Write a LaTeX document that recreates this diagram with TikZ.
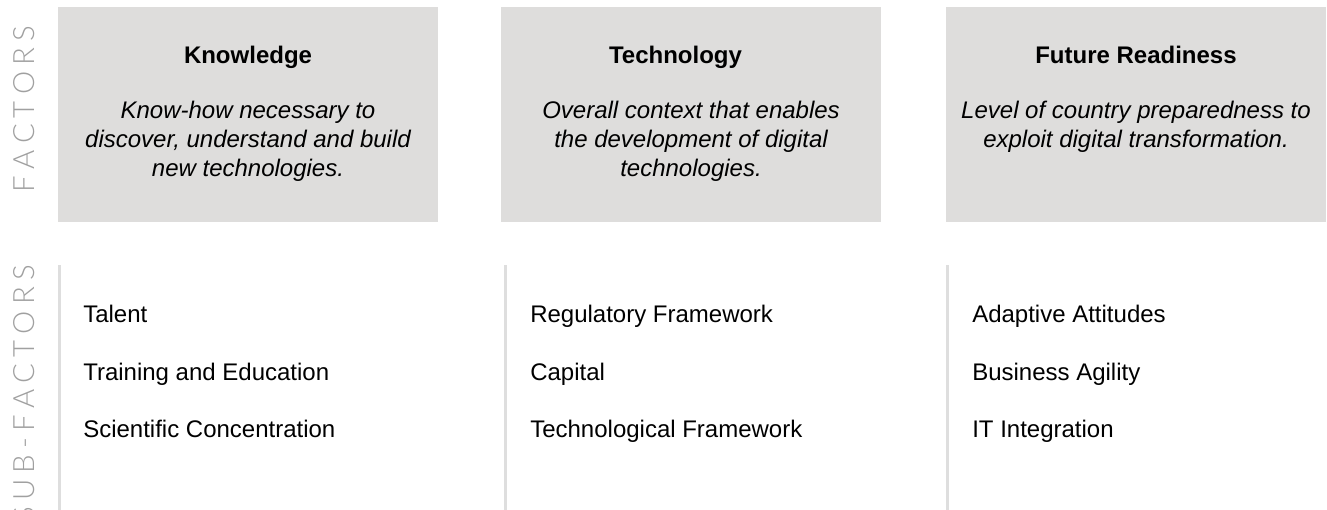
\documentclass[tikz,border=0pt]{standalone}
\usepackage{fontspec}
\setmainfont{Liberation Sans}
\newfontfamily\labelfont{Lato}[UprightFont=* Light]
\definecolor{boxgrey}{HTML}{DEDDDC}
\definecolor{linegrey}{HTML}{DEDEDE}
\definecolor{labelgrey}{HTML}{A0A0A0}
\newcommand{\trk}{\kern 4.6pt}
\tikzset{
  factorbox/.style={fill=boxgrey, draw=none},
  title/.style={font=\fontsize{18}{21.5}\selectfont\bfseries, anchor=base, inner sep=0pt},
  desc/.style={font=\fontsize{18}{21.5}\selectfont\itshape, anchor=base, inner sep=0pt},
  sub/.style={font=\fontsize{18}{21.5}\selectfont, anchor=base west, inner sep=0pt},
  sideline/.style={draw=linegrey, line width=2.25pt},
  sidelabel/.style={font=\labelfont\fontsize{22}{24}\selectfont, text=labelgrey, rotate=90, inner sep=0pt}
}
\begin{document}
\begin{tikzpicture}[x=0.75pt,y=-0.75pt]
\useasboundingbox (0,0) rectangle (1327,510);
% factor boxes
\path[factorbox] (58,7) rectangle (438,222);
\path[factorbox] (501,7) rectangle (881,222);
\path[factorbox] (946,7) rectangle (1326,222);
% titles
\node[title] (t1) at (248,64) {Knowledge};
\node[title] (t2) at (675.5,64) {Technology};
\node[title] (t3) at (1136,64) {Future Readiness};
% descriptions
\node[desc] (d1a) at (248,118) {Know-how necessary to};
\node[desc] (d1b) at (248,147) {discover, understand and build};
\node[desc] (d1c) at (248,176) {new technologies.};
\node[desc] (d2a) at (691,118) {Overall context that enables};
\node[desc] (d2b) at (691,147) {the development of digital};
\node[desc] (d2c) at (691,176) {technologies.};
\node[desc] (d3a) at (1136,118) {Level of country preparedness to};
\node[desc] (d3b) at (1136,147) {exploit digital transformation.};
% side lines
\coordinate (l1a) at (59,265); \coordinate (l1b) at (59,510);
\coordinate (l2a) at (505,265); \coordinate (l2b) at (505,510);
\coordinate (l3a) at (947,265); \coordinate (l3b) at (947,510);
\draw[sideline] (l1a) -- (l1b);
\draw[sideline] (l2a) -- (l2b);
\draw[sideline] (l3a) -- (l3b);
% sub-factors
\node[sub] (s11) at (83,322) {Talent};
\node[sub] (s12) at (83,380) {Training and Education};
\node[sub] (s13) at (83,437) {Scientific Concentration};
\node[sub] (s21) at (530,322) {Regulatory Framework};
\node[sub] (s22) at (530,380) {Capital};
\node[sub] (s23) at (530,437) {Technological Framework};
\node[sub] (s31) at (972,322) {Adaptive Attitudes};
\node[sub] (s32) at (972,380) {Business Agility};
\node[sub] (s33) at (972,437) {IT Integration};
% side labels
\node[sidelabel, anchor=center] (lf) at (24,109) {F\trk A\trk C\trk T\trk O\trk R\trk S};
\node[sidelabel, anchor=east] (ls) at (24,265) {S\trk U\trk B\trk -\trk F\trk A\trk C\trk T\trk O\trk R\trk S};
\end{tikzpicture}
\end{document}
